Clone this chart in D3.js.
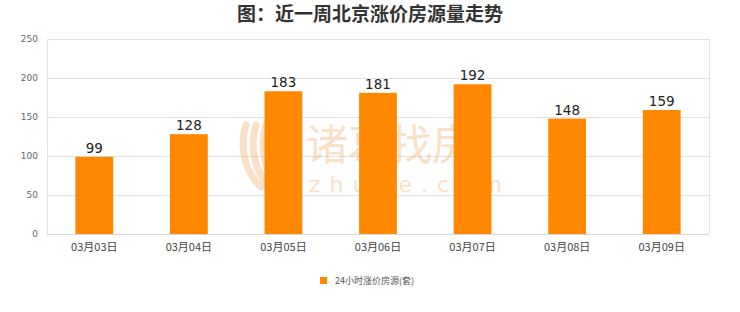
<!DOCTYPE html>
<html>
<head>
<meta charset="utf-8">
<script src="https://cdn.jsdelivr.net/npm/d3@7"></script>
<style>
  html, body { margin: 0; padding: 0; background: #ffffff; }
  svg { display: block; }
</style>
</head>
<body>
<svg id="chart" width="740" height="312"></svg>
<script>
// Daily count of Beijing listings with a price increase over the past week
const categories = ["03月03日", "03月04日", "03月05日", "03月06日", "03月07日", "03月08日", "03月09日"];
const values = [99, 128, 183, 181, 192, 148, 159];
const yTicks = [0, 50, 100, 150, 200, 250];
const seriesName = "24小时涨价房源(套)";
const titleText = "图：近一周北京涨价房源量走势";

const svg = d3.select("#chart");
const margin = { left: 47, right: 31, top: 39, bottom: 78 };
const W = 740, H = 312;
const plotW = W - margin.left - margin.right;
const plotH = H - margin.top - margin.bottom;

const x = d3.scaleBand().domain(categories).range([0, plotW]).paddingInner(0.6).paddingOuter(0.3);
const y = d3.scaleLinear().domain([0, 250]).range([plotH, 0]);

// Title
svg.append("text")
  .attr("x", 370).attr("y", 21)
  .attr("text-anchor", "middle")
  .attr("font-family", "'Noto Sans CJK SC', sans-serif")
  .attr("font-size", 19).attr("font-weight", "bold")
  .attr("fill", "#333")
  .text(titleText);

const g = svg.append("g").attr("transform", `translate(${margin.left},${margin.top})`);

// Horizontal gridlines
g.selectAll("line.grid").data(yTicks).join("line")
  .attr("class", "grid")
  .attr("x1", 0).attr("x2", plotW)
  .attr("y1", d => y(d) + 0.5).attr("y2", d => y(d) + 0.5)
  .attr("stroke", "#e2e2e2");

// Right border
g.append("line")
  .attr("x1", plotW + 0.5).attr("x2", plotW + 0.5)
  .attr("y1", 0).attr("y2", plotH)
  .attr("stroke", "#e2e2e2");

// Faint brand watermark behind the bars
const wm = g.append("g").attr("opacity", 0.35).attr("fill", "#f0a860");
wm.append("text")
  .attr("x", 259).attr("y", 121)
  .attr("font-family", "'Noto Sans CJK SC', sans-serif")
  .attr("font-size", 42)
  .text("诸葛找房");
wm.append("text")
  .attr("x", 262).attr("y", 153)
  .attr("font-family", "'DejaVu Sans', sans-serif")
  .attr("font-size", 22)
  .attr("letter-spacing", 9)
  .text("zhuge.com");
// simple stroke mark to the left of the wordmark
[0, 1, 2].forEach(i => {
  wm.append("path")
    .attr("d", `M${199 + i * 10},${86} C${192 + i * 10},${108} ${198 + i * 10},${133} ${214 + i * 9},${148}`)
    .attr("fill", "none")
    .attr("stroke", "#f0a860")
    .attr("stroke-width", 7)
    .attr("stroke-linecap", "round");
});

// Y axis
const yAxis = d3.axisLeft(y).tickValues(yTicks).tickSize(0).tickPadding(9);
const ya = g.append("g").call(yAxis);
ya.select(".domain").attr("stroke", "#e2e2e2").attr("d", `M0.5,0V${plotH}`);
ya.selectAll("text")
  .attr("font-family", "'DejaVu Sans', sans-serif")
  .attr("font-size", 9).attr("fill", "#666");

// X axis
const xAxis = d3.axisBottom(x).tickSize(0).tickPadding(9);
const xa = g.append("g").attr("transform", `translate(0,${plotH})`).call(xAxis);
xa.select(".domain").attr("stroke", "#d8d8d8").attr("d", `M0,0.5H${plotW}`);
xa.selectAll("text")
  .attr("font-family", "'Noto Sans CJK SC', sans-serif")
  .attr("font-size", 11).attr("fill", "#444");

// Bars
g.selectAll("rect.bar").data(values).join("rect")
  .attr("class", "bar")
  .attr("x", (d, i) => x(categories[i]))
  .attr("width", x.bandwidth())
  .attr("y", d => y(d))
  .attr("height", d => plotH - y(d))
  .attr("fill", "#ff8800");

// Value labels
g.selectAll("text.val").data(values).join("text")
  .attr("class", "val")
  .attr("x", (d, i) => x(categories[i]) + x.bandwidth() / 2)
  .attr("y", d => y(d) - 4)
  .attr("text-anchor", "middle")
  .attr("font-family", "'DejaVu Sans', sans-serif")
  .attr("font-size", 13.5).attr("fill", "#222")
  .text(d => d);

// Legend
const lg = svg.append("g").attr("transform", "translate(320,277)");
lg.append("rect").attr("x", 0).attr("y", 0).attr("width", 7).attr("height", 7).attr("fill", "#ff8800");
lg.append("text")
  .attr("x", 15).attr("y", 7)
  .attr("font-family", "'Noto Sans CJK SC', sans-serif")
  .attr("font-size", 9).attr("fill", "#555")
  .text(seriesName);
</script>
</body>
</html>
